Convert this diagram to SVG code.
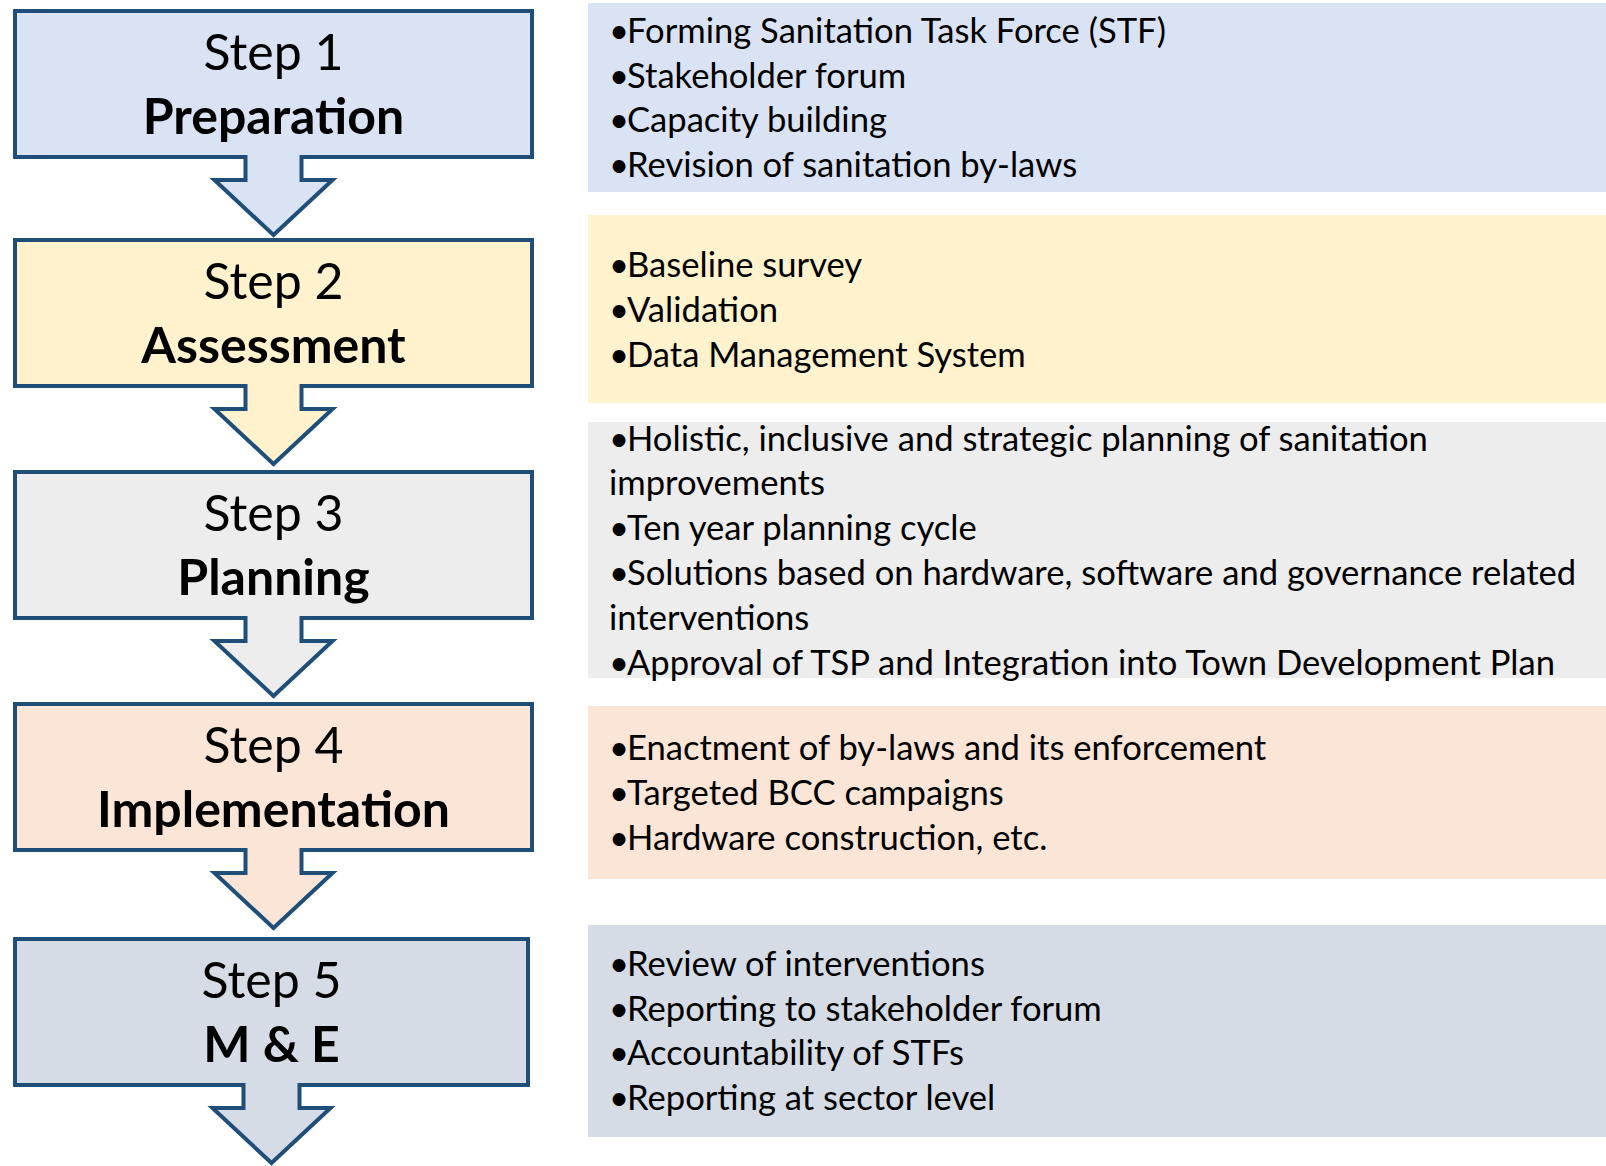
<svg xmlns="http://www.w3.org/2000/svg" width="1606" height="1166" viewBox="0 0 1606 1166">
<style>
.box{stroke:#1F4E79;stroke-width:4;stroke-linejoin:miter}
.lbl{font-family:Lato,"Liberation Sans",sans-serif;font-size:50px;fill:#000;text-anchor:middle}
.b{font-weight:bold}
.bl{font-family:Lato,"Liberation Sans",sans-serif;font-size:34.6px;fill:#000}
</style>
<rect width="1606" height="1166" fill="#fff"/>
<g id="panels">
<g id="panel1"><rect x="588" y="3" width="1018" height="189" fill="#DAE3F3"/>
<text class="bl"><tspan x="609" y="43">•</tspan><tspan x="627">Forming Sanitation Task Force (STF)</tspan><tspan x="609" y="87.7">•</tspan><tspan x="627">Stakeholder forum</tspan><tspan x="609" y="132.4">•</tspan><tspan x="627">Capacity building</tspan><tspan x="609" y="177.1">•</tspan><tspan x="627">Revision of sanitation by-laws</tspan></text></g>
<g id="panel2"><rect x="588" y="215" width="1018" height="188" fill="#FFF2CC"/>
<text class="bl"><tspan x="609" y="276.5">•</tspan><tspan x="627">Baseline survey</tspan><tspan x="609" y="321.6">•</tspan><tspan x="627">Validation</tspan><tspan x="609" y="366.7">•</tspan><tspan x="627">Data Management System</tspan></text></g>
<g id="panel3"><rect x="588" y="422" width="1018" height="256" fill="#EDEDED"/>
<text class="bl"><tspan x="609" y="450.5">•</tspan><tspan x="627">Holistic, inclusive and strategic planning of sanitation</tspan><tspan x="609" y="495.4">improvements</tspan><tspan x="609" y="540.3">•</tspan><tspan x="627">Ten year planning cycle</tspan><tspan x="609" y="585.2">•</tspan><tspan x="627">Solutions based on hardware, software and governance related</tspan><tspan x="609" y="630.1">interventions</tspan><tspan x="609" y="675">•</tspan><tspan x="627">Approval of TSP and Integration into Town Development Plan</tspan></text></g>
<g id="panel4"><rect x="588" y="706" width="1018" height="173" fill="#FBE5D6"/>
<text class="bl"><tspan x="609" y="760">•</tspan><tspan x="627">Enactment of by-laws and its enforcement</tspan><tspan x="609" y="805">•</tspan><tspan x="627">Targeted BCC campaigns</tspan><tspan x="609" y="850">•</tspan><tspan x="627">Hardware construction, etc.</tspan></text></g>
<g id="panel5"><rect x="588" y="925" width="1018" height="212" fill="#D6DCE5"/>
<text class="bl"><tspan x="609" y="976">•</tspan><tspan x="627">Review of interventions</tspan><tspan x="609" y="1021">•</tspan><tspan x="627">Reporting to stakeholder forum</tspan><tspan x="609" y="1065">•</tspan><tspan x="627">Accountability of STFs</tspan><tspan x="609" y="1110">•</tspan><tspan x="627">Reporting at sector level</tspan></text></g>
</g>
<g id="connectors"></g>
<g id="step1"><path class="box" fill="#DAE3F3" d="M15,11 H532 V157 H301.5 V180 H332.5 L273.5,235 L214.5,180 H245.5 V157 H15 Z"/>
<text class="lbl" x="273.5" y="70">Step 1</text><text class="lbl b" x="273.5" y="134">Preparation</text></g>
<g id="step2"><path class="box" fill="#FFF2CC" d="M15,240 H532 V386 H301.5 V409 H332.5 L273.5,464 L214.5,409 H245.5 V386 H15 Z"/>
<text class="lbl" x="273.5" y="299">Step 2</text><text class="lbl b" x="273.5" y="363">Assessment</text></g>
<g id="step3"><path class="box" fill="#EDEDED" d="M15,472 H532 V618 H301.5 V641 H332.5 L273.5,696 L214.5,641 H245.5 V618 H15 Z"/>
<text class="lbl" x="273.5" y="531">Step 3</text><text class="lbl b" x="273.5" y="595">Planning</text></g>
<g id="step4"><path class="box" fill="#FBE5D6" d="M15,704 H532 V850 H301.5 V873 H332.5 L273.5,928 L214.5,873 H245.5 V850 H15 Z"/>
<text class="lbl" x="273.5" y="763">Step 4</text><text class="lbl b" x="273.5" y="827">Implementation</text></g>
<g id="step5"><path class="box" fill="#D6DCE5" d="M15,939 H528 V1085 H299.5 V1108 H330.5 L271.5,1163 L212.5,1108 H243.5 V1085 H15 Z"/>
<text class="lbl" x="271.5" y="998">Step 5</text><text class="lbl b" x="271.5" y="1062">M &amp; E</text></g>
</svg>
